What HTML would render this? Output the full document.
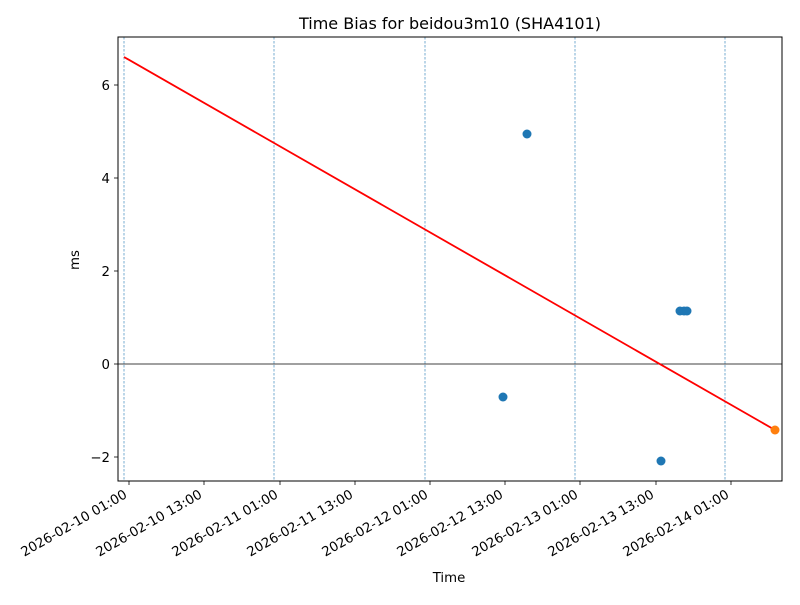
<!DOCTYPE html>
<html><head><style>body{margin:0;background:#fff}svg text{font-family:"DejaVu Sans","Liberation Sans",sans-serif;font-size:13.3px;fill:#000}</style></head>
<body><svg width="800" height="600" xmlns="http://www.w3.org/2000/svg">
<rect width="800" height="600" fill="#fff"/>
<g stroke="#1f77b4" stroke-width="0.6" stroke-dasharray="2.5,1.5">
<line x1="124" y1="37" x2="124" y2="481"/><line x1="274" y1="37" x2="274" y2="481"/><line x1="425" y1="37" x2="425" y2="481"/><line x1="575" y1="37" x2="575" y2="481"/><line x1="725" y1="37" x2="725" y2="481"/>
</g>
<line x1="118" y1="364" x2="782" y2="364" stroke="#000" stroke-width="0.8"/>
<line x1="124" y1="57" x2="775" y2="430" stroke="red" stroke-width="1.8"/>
<g fill="#1f77b4"><circle cx="527" cy="134" r="4.5"/><circle cx="503" cy="397" r="4.5"/><circle cx="661" cy="461" r="4.5"/><circle cx="680" cy="311" r="4.5"/><circle cx="684" cy="311" r="4.5"/><circle cx="687" cy="311" r="4.5"/></g>
<circle cx="775" cy="430" r="4.5" fill="#ff7f0e"/>
<rect x="118" y="37" width="664" height="444" fill="none" stroke="#000" stroke-width="1"/>
<g stroke="#000" stroke-width="0.8">
<line x1="114" y1="85" x2="118" y2="85"/><line x1="114" y1="178" x2="118" y2="178"/><line x1="114" y1="271" x2="118" y2="271"/><line x1="114" y1="364" x2="118" y2="364"/><line x1="114" y1="457" x2="118" y2="457"/>
<line x1="129" y1="481" x2="129" y2="485"/><line x1="204" y1="481" x2="204" y2="485"/><line x1="280" y1="481" x2="280" y2="485"/><line x1="355" y1="481" x2="355" y2="485"/><line x1="430" y1="481" x2="430" y2="485"/><line x1="505" y1="481" x2="505" y2="485"/><line x1="580" y1="481" x2="580" y2="485"/><line x1="656" y1="481" x2="656" y2="485"/><line x1="731" y1="481" x2="731" y2="485"/>
</g>
<g text-anchor="end"><text x="110" y="90">6</text><text x="110" y="183">4</text><text x="110" y="276">2</text><text x="110" y="369">0</text><text x="110" y="462">−2</text></g>
<g text-anchor="end">
<text transform="translate(128,497) rotate(-30)">2026-02-10 01:00</text>
<text transform="translate(203,497) rotate(-30)">2026-02-10 13:00</text>
<text transform="translate(279,497) rotate(-30)">2026-02-11 01:00</text>
<text transform="translate(354,497) rotate(-30)">2026-02-11 13:00</text>
<text transform="translate(429,497) rotate(-30)">2026-02-12 01:00</text>
<text transform="translate(504,497) rotate(-30)">2026-02-12 13:00</text>
<text transform="translate(579,497) rotate(-30)">2026-02-13 01:00</text>
<text transform="translate(655,497) rotate(-30)">2026-02-13 13:00</text>
<text transform="translate(730,497) rotate(-30)">2026-02-14 01:00</text>
</g>
<text x="449" y="582" text-anchor="middle">Time</text>
<text transform="translate(79,260) rotate(-90)" text-anchor="middle">ms</text>
<text x="450" y="29" text-anchor="middle" style="font-size:16px">Time Bias for beidou3m10 (SHA4101)</text>
</svg></body></html>
